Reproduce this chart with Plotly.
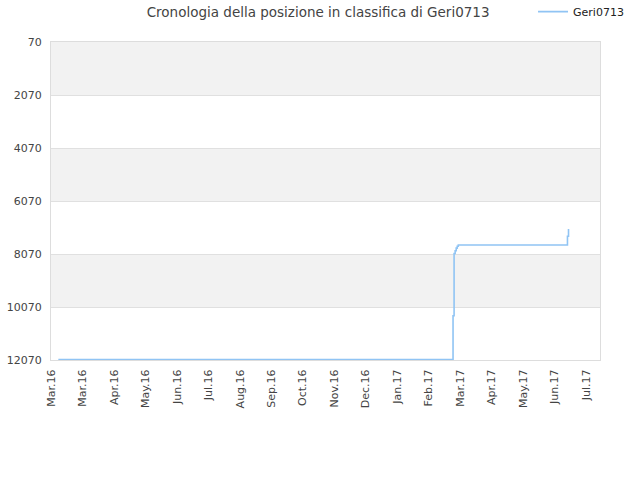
import pandas as pd
import plotly.graph_objs as go

# ranking history of Geri0713
dates = ['2016-03-08', '2017-03-18', '2017-03-19', '2017-03-20', '2017-03-21',
         '2017-03-22', '2017-03-23', '2017-03-24', '2017-07-05', '2017-07-06',
         '2017-07-07']
ranks = [12050, 12050, 10400, 8050, 7950, 7850, 7780, 7730, 7730, 7400, 7130]

tick_dates = pd.date_range('2016-03-01', periods=18, freq='30D')
tick_text = ['Mar.16', 'Mar.16', 'Apr.16', 'May.16', 'Jun.16', 'Jul.16', 'Aug.16',
             'Sep.16', 'Oct.16', 'Nov.16', 'Dec.16', 'Jan.17', 'Feb.17', 'Mar.17',
             'Apr.17', 'May.17', 'Jun.17', 'Jul.17']
y_ticks = [70, 2070, 4070, 6070, 8070, 10070, 12070]

data = [go.Scatter(x=dates, y=ranks, mode='lines', name='Geri0713',
                   line=dict(color='#90c4f4', width=1.6, shape='hv'))]

bands = []
for i in range(0, len(y_ticks) - 1, 2):
    bands.append(dict(type='rect', xref='paper', yref='y', x0=0, x1=1,
                      y0=y_ticks[i], y1=y_ticks[i + 1], fillcolor='#f2f2f2',
                      line=dict(width=0), layer='below'))

layout = go.Layout(
    title=dict(text='Cronologia della posizione in classifica di Geri0713',
               x=0.497, xanchor='center', y=0.975, yanchor='middle',
               font=dict(size=13.5, color='#444')),
    font=dict(family='DejaVu Sans', size=11, color='#444'),
    width=640, height=480,
    margin=dict(l=51, r=40, t=42, b=120, autoexpand=False),
    plot_bgcolor='white', paper_bgcolor='white',
    showlegend=True,
    legend=dict(x=0.878, y=1.141, xanchor='left', yanchor='top', itemwidth=30,
                font=dict(size=11, color='#222'), bgcolor='rgba(0,0,0,0)'),
    xaxis=dict(range=['2016-03-01', pd.Timestamp('2016-03-01') + pd.Timedelta(days=523)],
               tickvals=tick_dates, ticktext=tick_text, tickangle=-90,
               showgrid=False, showline=True, linecolor='#ddd', mirror=True,
               ticks='', zeroline=False, ticklabelstandoff=4),
    yaxis=dict(range=[12070, 70], tickvals=y_ticks, ticktext=[str(v) for v in y_ticks],
               showgrid=True, gridcolor='#e0e0e0', ticklabelstandoff=6,
               showline=True, linecolor='#ddd', mirror=True, zeroline=False, ticks=''),
    shapes=bands,
)

fig = go.Figure(data=data, layout=layout)
fig.write_html('out.html', config={'displayModeBar': False},
               post_script="document.body.style.margin='0';")
